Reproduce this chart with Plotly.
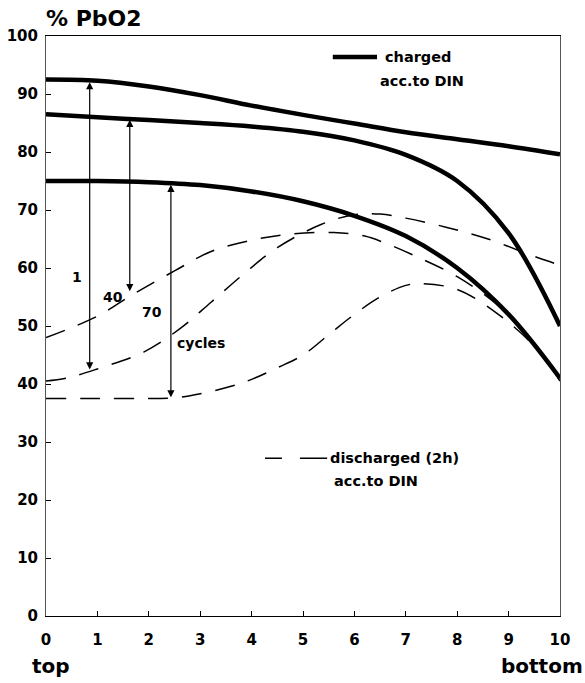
import plotly.graph_objects as go

# x positions along the plate (0 = top, 10 = bottom)
x_pos = [0, 1, 2, 3, 4, 5, 6, 7, 8, 9, 10]

# charged curves (% PbO2)
charged_1 = [92.5, 92.3, 91.3, 89.8, 88.0, 86.4, 84.9, 83.4, 82.2, 81.0, 79.6]
charged_40 = [86.5, 86.0, 85.5, 85.0, 84.4, 83.5, 82.0, 79.5, 75.0, 66.0, 50.0]
charged_70 = [75.0, 75.0, 74.8, 74.3, 73.2, 71.5, 69.0, 65.5, 60.0, 52.0, 41.0]

# discharged (2h) curves
dis_x_a = [0, 1, 1.7, 2.5, 3.2, 4, 4.8, 5.6, 6.2, 6.6, 7.2, 8, 8.8, 9.5, 10]
dis_a = [48.0, 51.7, 55.5, 59.5, 62.8, 64.8, 65.9, 66.1, 65.5, 64.3, 62.0, 58.5, 53.5, 47.0, 41.0]
dis_x_b = [0, 0.4, 1, 1.9, 2.6, 3.2, 3.85, 4.5, 5.35, 6, 6.5, 7, 7.8, 8.6, 9.5, 10]
dis_b = [40.5, 41.0, 42.6, 45.5, 49.5, 54.0, 59.0, 63.5, 67.5, 69.2, 69.3, 68.6, 67.0, 65.0, 62.0, 60.5]
dis_x_c = [0, 1, 2, 2.5, 3, 3.6, 4, 4.5, 5, 5.5, 6, 6.5, 7, 7.3, 8, 8.8, 9.5, 10]
dis_c = [37.5, 37.5, 37.5, 37.6, 38.3, 39.6, 40.8, 42.8, 45.0, 48.5, 52.0, 55.0, 57.0, 57.3, 56.3, 52.0, 46.5, 40.5]

# cycle arrows: x, top value, bottom value, label
arrow_x = [0.85, 1.63, 2.43]
arrow_top = [92.3, 85.8, 74.6]
arrow_bot = [42.5, 56.0, 37.7]
arrow_labels = ["1", "40", "70"]
label_x = [0.6, 1.3, 2.07]
label_y = [58.5, 55.0, 52.5]

x_ticks = list(range(0, 11))
y_ticks = list(range(0, 101, 10))

FONT = "DejaVu Sans, sans-serif"

fig = go.Figure()
for ys in (charged_1, charged_40, charged_70):
    fig.add_trace(go.Scatter(x=x_pos, y=ys, mode="lines",
                             line=dict(color="black", width=4.5, shape="spline", smoothing=1.0),
                             showlegend=False, hoverinfo="skip"))
for xs, ys in ((dis_x_a, dis_a), (dis_x_b, dis_b), (dis_x_c, dis_c)):
    fig.add_trace(go.Scatter(x=xs, y=ys, mode="lines",
                             line=dict(color="black", width=1.5, shape="spline", smoothing=1.0,
                                       dash="20px,14px"),
                             showlegend=False, hoverinfo="skip"))

# legend-like line samples
fig.add_trace(go.Scatter(x=[5.58, 6.44], y=[96.4, 96.4], mode="lines",
                         line=dict(color="black", width=4.5), showlegend=False, hoverinfo="skip"))
fig.add_trace(go.Scatter(x=[4.26, 4.59], y=[27.2, 27.2], mode="lines",
                         line=dict(color="black", width=1.5), showlegend=False, hoverinfo="skip"))
fig.add_trace(go.Scatter(x=[4.94, 5.47], y=[27.2, 27.2], mode="lines",
                         line=dict(color="black", width=1.5), showlegend=False, hoverinfo="skip"))

def txt(size, bold=True):
    return dict(family=FONT, size=size, color="black", weight="bold" if bold else "normal")

annotations = []
for xa, yt, yb in zip(arrow_x, arrow_top, arrow_bot):
    annotations.append(dict(x=xa, y=yb, ax=xa, ay=yt, xref="x", yref="y", axref="x", ayref="y",
                            showarrow=True, arrowhead=2, arrowside="end+start", arrowsize=1.2,
                            arrowwidth=1.2, arrowcolor="black", text=""))
for t, lx, ly in zip(arrow_labels, label_x, label_y):
    annotations.append(dict(x=lx, y=ly, xref="x", yref="y", text=t, showarrow=False,
                            font=txt(14)))
annotations += [
    dict(x=2.51, y=47.0, xref="x", yref="y", text="cycles", showarrow=False, xanchor="left",
         font=txt(14)),
    dict(x=6.56, y=96.4, xref="x", yref="y", text="charged", showarrow=False, xanchor="left",
         font=txt(14.5)),
    dict(x=6.46, y=92.2, xref="x", yref="y", text="acc.to DIN", showarrow=False, xanchor="left",
         font=txt(14.5)),
    dict(x=5.49, y=27.2, xref="x", yref="y", text="discharged (2h)", showarrow=False, xanchor="left",
         font=txt(14.5)),
    dict(x=5.56, y=23.3, xref="x", yref="y", text="acc.to DIN", showarrow=False, xanchor="left",
         font=txt(14.5)),
    dict(x=0, y=1.0, xref="paper", yref="paper", text="% PbO2", showarrow=False,
         xanchor="left", yanchor="bottom", xshift=-2, yshift=3,
         font=txt(22)),
    dict(x=0, y=0, xref="paper", yref="paper", text="top", showarrow=False,
         xanchor="left", yanchor="top", xshift=-16, yshift=-36,
         font=txt(20)),
    dict(x=1, y=0, xref="paper", yref="paper", text="bottom", showarrow=False,
         xanchor="right", yanchor="top", xshift=25, yshift=-36,
         font=txt(20)),
]

fig.update_layout(
    width=585, height=683,
    margin=dict(l=46, r=25, t=36, b=67, autoexpand=False),
    paper_bgcolor="white", plot_bgcolor="white",
    annotations=annotations,
    showlegend=False,
)
fig.update_xaxes(range=[0, 10], tickvals=x_ticks, ticktext=[str(v) for v in x_ticks],
                 showgrid=False, zeroline=False, showline=True, linecolor="black", linewidth=1,
                 mirror=True, ticks="inside", ticklen=5, tickcolor="black", automargin=False,
                 ticklabelstandoff=10, tickfont=txt(15))
fig.update_yaxes(range=[0, 100], tickvals=y_ticks, ticktext=[str(v) for v in y_ticks],
                 showgrid=False, zeroline=False, showline=True, linecolor="#555555", linewidth=1,
                 mirror=True, ticks="inside", ticklen=5, tickcolor="black", automargin=False,
                 ticklabelstandoff=4, tickfont=txt(15))

fig.write_html("out.html")
